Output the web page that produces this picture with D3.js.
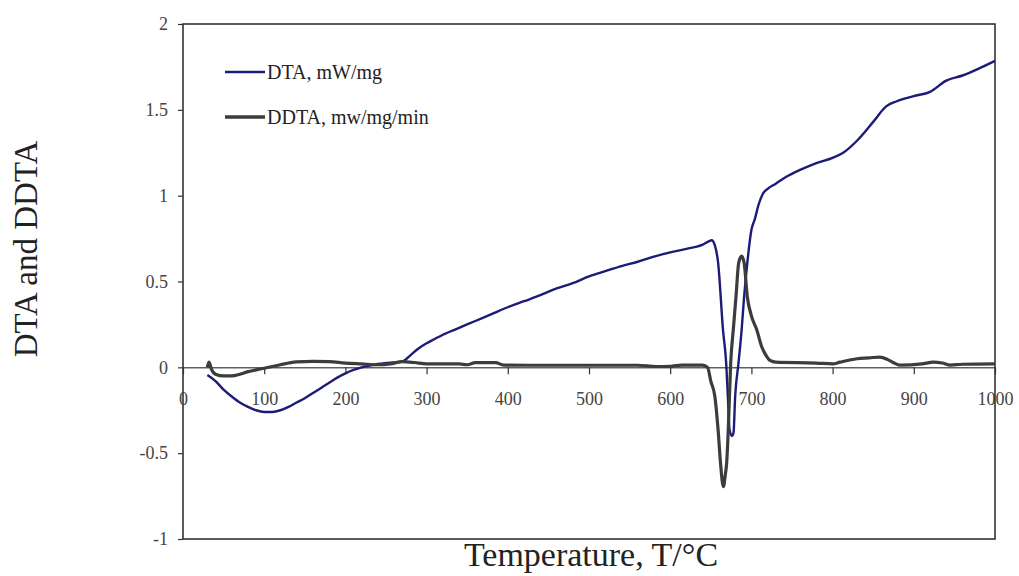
<!DOCTYPE html>
<html>
<head>
<meta charset="utf-8">
<script src="https://cdn.jsdelivr.net/npm/d3@7"></script>
<style>
  html, body { margin: 0; padding: 0; background: #fff; }
  svg { display: block; }
</style>
</head>
<body>
<svg id="chart" width="1019" height="576"></svg>
<script>
// Temperature (°C) and DTA signal (mW/mg)
const dtaT = [30, 40, 50, 60, 70, 80, 90, 100, 110, 120, 130, 140, 150, 160, 170, 180, 190, 200, 210, 220,
  230, 240, 250, 260, 270, 280, 290, 300, 310, 320, 340, 360, 380, 400, 420, 440, 460, 480, 500, 520,
  540, 560, 580, 600, 620, 640, 648, 651, 655, 659, 665, 669, 671, 673, 676, 678, 680, 684, 688, 691,
  695, 700, 704, 709, 714, 720, 730, 743, 760, 780, 800, 813, 830, 850, 866, 879, 900, 920, 940, 960,
  980, 1000];
const dtaV = [-0.045, -0.08, -0.13, -0.17, -0.205, -0.23, -0.25, -0.26, -0.26, -0.25, -0.23, -0.205, -0.18, -0.15, -0.12, -0.09, -0.06, -0.035, -0.015, 0.0,
  0.01, 0.02, 0.025, 0.028, 0.033, 0.07, 0.11, 0.14, 0.165, 0.19, 0.23, 0.27, 0.31, 0.35, 0.385, 0.42, 0.46, 0.49, 0.53, 0.56,
  0.59, 0.615, 0.645, 0.67, 0.69, 0.715, 0.735, 0.74, 0.71, 0.61, 0.22, 0.02, -0.17, -0.36, -0.40, -0.38, -0.17, 0.02, 0.22, 0.41,
  0.61, 0.80, 0.86, 0.95, 1.01, 1.04, 1.07, 1.11, 1.15, 1.19, 1.22, 1.25, 1.32, 1.43, 1.52, 1.55, 1.58, 1.605, 1.67, 1.70,
  1.74, 1.785];

// Temperature (°C) and DDTA signal (mW/mg/min)
const ddtaT = [30, 32, 35, 40, 50, 60, 70, 80, 90, 100, 110, 120, 130, 140, 160, 180, 200, 220, 240, 255,
  270, 285, 300, 320, 340, 350, 360, 385, 395, 450, 500, 560, 583, 600, 614, 640, 646, 650, 655, 659,
  662, 665.5, 668, 669.5, 671.5, 674.5, 677.7, 681, 684.4, 688, 691, 695, 700, 706.5, 712.7, 718, 723, 730, 780, 800,
  809, 830, 845, 858, 868, 875, 883, 910, 924, 935, 945, 960, 1000];
const ddtaV = [0.0, 0.03, -0.01, -0.04, -0.05, -0.05, -0.04, -0.025, -0.015, -0.005, 0.005, 0.015, 0.025, 0.032, 0.035, 0.033, 0.025, 0.02, 0.015, 0.02,
  0.033, 0.028, 0.02, 0.02, 0.02, 0.015, 0.027, 0.027, 0.013, 0.012, 0.012, 0.012, 0.005, 0.006, 0.013, 0.013, 0.0, -0.08, -0.17, -0.365,
  -0.56, -0.695, -0.62, -0.56, -0.365, 0.025, 0.22, 0.41, 0.61, 0.648, 0.61, 0.41, 0.30, 0.22, 0.12, 0.07, 0.04, 0.03, 0.025, 0.02,
  0.03, 0.05, 0.055, 0.06, 0.045, 0.027, 0.013, 0.02, 0.03, 0.025, 0.013, 0.018, 0.02];

const xTicks = [0, 100, 200, 300, 400, 500, 600, 700, 800, 900, 1000];
const yTicks = [-1, -0.5, 0, 0.5, 1, 1.5, 2];
const seriesNames = ["DTA, mW/mg", "DDTA, mw/mg/min"];

const svg = d3.select("#chart");
const font = "'Liberation Serif', 'Times New Roman', serif";

const plot = { left: 183, right: 995, top: 24, bottom: 539 };
const x = d3.scaleLinear().domain([0, 1000]).range([plot.left, plot.right]);
const y = d3.scaleLinear().domain([-1, 2]).range([plot.bottom, plot.top]);

// y axis with outward ticks on the left edge
const yAxis = svg.append("g")
  .attr("transform", `translate(${plot.left},0)`)
  .call(d3.axisLeft(y).tickValues(yTicks).tickSize(5).tickPadding(10)
    .tickFormat(d => String(d)));
yAxis.select(".domain").remove();
yAxis.selectAll("line").attr("stroke", "#333").attr("stroke-width", 1.2);
yAxis.selectAll("text").attr("font-family", font).attr("font-size", 18).attr("fill", "#444");

// x axis drawn along the zero line
const xAxis = svg.append("g")
  .attr("transform", `translate(0,${y(0)})`)
  .call(d3.axisBottom(x).tickValues(xTicks).tickSize(7).tickPadding(18)
    .tickFormat(d => String(d)));
xAxis.select(".domain").attr("stroke", "#111").attr("stroke-width", 1);
xAxis.selectAll("line").attr("stroke", "#333").attr("stroke-width", 1.2);
xAxis.selectAll("text").attr("font-family", font).attr("font-size", 18).attr("fill", "#444");

// plot frame
svg.append("rect")
  .attr("x", plot.left).attr("y", plot.top)
  .attr("width", plot.right - plot.left).attr("height", plot.bottom - plot.top)
  .attr("fill", "none").attr("stroke", "#333").attr("stroke-width", 1.6);

const line = d3.line()
  .x(d => x(d[0])).y(d => y(d[1]))
  .curve(d3.curveMonotoneX);

const dtaData = dtaT.map((t, i) => [t, dtaV[i]]);
const ddtaData = ddtaT.map((t, i) => [t, ddtaV[i]]);

svg.append("path").datum(dtaData)
  .attr("d", line).attr("fill", "none")
  .attr("stroke", "#1c1c78").attr("stroke-width", 2.4).attr("stroke-linejoin", "round");

svg.append("path").datum(ddtaData)
  .attr("d", line).attr("fill", "none")
  .attr("stroke", "#3c3c3c").attr("stroke-width", 3.2).attr("stroke-linejoin", "round");

// legend
const legend = [
  { name: seriesNames[0], color: "#1c1c78", width: 2.4, y: 72 },
  { name: seriesNames[1], color: "#3c3c3c", width: 3.6, y: 117 }
];
legend.forEach(l => {
  svg.append("line")
    .attr("x1", 225).attr("x2", 265).attr("y1", l.y).attr("y2", l.y)
    .attr("stroke", l.color).attr("stroke-width", l.width);
  svg.append("text")
    .attr("x", 267).attr("y", l.y + 7)
    .attr("font-family", font).attr("font-size", 20).attr("fill", "#222")
    .text(l.name);
});

// axis titles
svg.append("text")
  .attr("transform", `translate(37,${249}) rotate(-90)`)
  .attr("text-anchor", "middle")
  .attr("font-family", font).attr("font-size", 33).attr("fill", "#222")
  .text("DTA and DDTA");

svg.append("text")
  .attr("x", 591).attr("y", 566)
  .attr("text-anchor", "middle")
  .attr("font-family", font).attr("font-size", 34).attr("fill", "#222")
  .text("Temperature, T/°C");
</script>
</body>
</html>
